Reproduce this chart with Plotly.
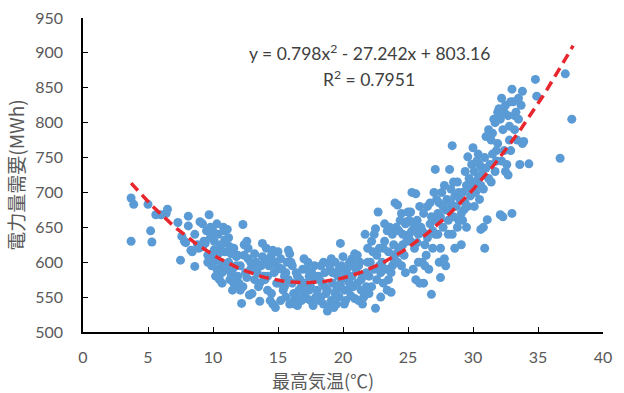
import plotly.graph_objects as go

# Observed days: (max temperature °C, electricity demand MWh)
points_cold = [
    (3.7, 692), (3.9, 683), (3.7, 630), (5.0, 683),
    (5.2, 645), (5.3, 629), (5.6, 668), (6.0, 668), (6.5, 676), (6.4, 670),
    (7.3, 657), (7.5, 603), (7.6, 637), (7.8, 630), (7.9, 628),
    (8.1, 666), (8.1, 652), (8.3, 617), (8.4, 615), (8.6, 640), (8.6, 594), (8.8, 625), (8.9, 620),
    (9.0, 658), (9.2, 655), (9.3, 630), (9.4, 627), (9.5, 645), (9.6, 610), (9.7, 668), (9.8, 650),
    (9.8, 635), (9.9, 612), (9.6, 600), (9.9, 595), (9.2, 622),
    (10.0, 645), (10.1, 630), (10.2, 605), (10.3, 590), (10.4, 640), (10.5, 620), (10.6, 600),
    (10.7, 585), (10.8, 650), (10.9, 615), (10.2, 580), (10.5, 575), (10.8, 595), (10.9, 632),
    (10.0, 600), (10.4, 612), (10.7, 570), (10.3, 655), (10.6, 625), (10.9, 645), (10.1, 618),
    (11.0, 628), (11.1, 647), (11.2, 600), (11.3, 575), (11.4, 612), (11.5, 590), (11.6, 620),
    (11.7, 565), (11.8, 608), (11.9, 580), (11.2, 635), (11.5, 560), (11.8, 595), (11.3, 622),
    (11.6, 570), (11.9, 610), (11.1, 590), (11.4, 583),
    (12.0, 570), (12.1, 595), (12.2, 541), (12.3, 654), (12.4, 610), (12.5, 585), (12.6, 630),
    (12.7, 620), (12.8, 553), (12.9, 600), (12.3, 565), (12.6, 578), (12.9, 590), (12.1, 560),
    (12.4, 625), (12.7, 605),
    (13.0, 555), (13.1, 590), (13.2, 575), (13.3, 600), (13.4, 585), (13.6, 544), (13.7, 595),
    (13.8, 627), (13.9, 580), (13.5, 565), (13.2, 612), (13.8, 608), (13.6, 570), (13.9, 598),
]

points_mild = [
    (14.0, 575), (14.1, 620), (14.2, 560), (14.3, 595), (14.4, 545), (14.5, 610), (14.6, 540),
    (14.7, 585), (14.8, 535), (14.9, 570), (14.3, 605), (14.6, 617), (14.2, 580), (14.8, 600),
    (14.5, 555), (14.9, 590),
    (15.0, 615), (15.1, 570), (15.2, 545), (15.3, 590), (15.4, 560), (15.5, 580), (15.6, 550),
    (15.7, 600), (15.8, 617), (15.9, 540), (15.2, 605), (15.5, 565), (15.8, 575), (15.1, 592),
    (15.9, 612), (15.6, 585),
    (16.0, 600), (16.1, 570), (16.2, 545), (16.3, 540), (16.4, 585), (16.5, 538), (16.6, 560),
    (16.7, 575), (16.8, 545), (16.9, 590), (16.2, 555), (16.5, 580), (16.8, 565), (16.1, 595),
    (16.4, 550),
    (17.0, 605), (17.1, 570), (17.2, 548), (17.3, 600), (17.4, 560), (17.5, 545), (17.6, 585),
    (17.7, 538), (17.8, 575), (17.9, 550), (17.2, 590), (17.5, 565), (17.8, 595), (17.4, 580),
    (17.0, 555),
    (18.0, 560), (18.1, 580), (18.2, 545), (18.3, 595), (18.4, 570), (18.5, 540), (18.6, 585),
    (18.7, 555), (18.8, 530), (18.9, 598), (18.2, 575), (18.5, 600), (18.8, 560), (18.3, 550),
    (18.9, 535), (18.6, 565),
    (19.0, 590), (19.1, 545), (19.2, 570), (19.3, 535), (19.4, 600), (19.5, 560), (19.6, 580),
    (19.7, 550), (19.8, 627), (19.9, 595), (19.2, 585), (19.5, 540), (19.8, 568), (19.1, 605),
    (19.4, 555), (19.7, 590), (19.9, 575),
    (20.0, 608), (20.1, 560), (20.2, 545), (20.3, 590), (20.4, 575), (20.5, 600), (20.6, 552),
    (20.7, 580), (20.8, 565), (20.9, 612), (20.2, 585), (20.5, 570), (20.8, 595), (20.1, 540),
    (20.4, 560), (20.7, 605), (20.9, 548),
    (21.0, 590), (21.1, 570), (21.2, 545), (21.3, 600), (21.4, 560), (21.5, 580), (21.6, 550),
    (21.7, 640), (21.8, 565), (21.9, 620), (21.2, 595), (21.5, 540), (21.8, 585), (21.1, 610),
    (21.4, 575), (21.7, 555), (21.9, 600),
    (22.0, 580), (22.1, 600), (22.2, 565), (22.3, 615), (22.4, 590), (22.5, 534), (22.5, 648),
    (22.6, 575), (22.7, 672), (22.8, 595), (22.9, 550), (22.2, 630), (22.6, 610), (22.9, 585),
    (22.0, 555), (22.4, 640), (22.8, 620),
    (23.0, 600), (23.1, 570), (23.2, 630), (23.3, 590), (23.4, 560), (23.5, 615), (23.6, 650),
    (23.7, 585), (23.8, 640), (23.9, 605), (23.2, 655), (23.5, 575), (23.8, 595), (23.1, 620),
    (23.4, 645), (23.7, 557), (23.9, 625),
]

points_hot = [
    (24.0, 685), (24.2, 682), (24.1, 650), (24.3, 620), (24.4, 660), (24.5, 595), (24.6, 640),
    (24.7, 610), (24.8, 655), (24.9, 630), (24.2, 600), (24.5, 670), (24.8, 585), (24.3, 645),
    (24.6, 625), (24.9, 658), (24.1, 612),
    (25.0, 672), (25.1, 640), (25.2, 672), (25.3, 700), (25.6, 698), (25.4, 655), (25.5, 620),
    (25.6, 575), (25.7, 660), (25.8, 640), (25.9, 680), (25.2, 630), (25.5, 650), (25.8, 600),
    (25.1, 660), (25.4, 590), (25.7, 628), (25.9, 570), (25.3, 645),
    (26.0, 650), (26.1, 600), (26.2, 670), (26.3, 625), (26.4, 640), (26.5, 680), (26.6, 590),
    (26.7, 655), (26.8, 554), (26.9, 620), (26.2, 570), (26.5, 635), (26.8, 665), (26.1, 645),
    (26.4, 610), (26.7, 685), (26.9, 645), (26.3, 595),
    (27.0, 700), (27.1, 733), (27.2, 660), (27.3, 640), (27.4, 685), (27.5, 578), (27.5, 620),
    (27.6, 700), (27.7, 650), (27.8, 605), (27.9, 675), (27.2, 690), (27.5, 665), (27.8, 710),
    (27.1, 640), (27.4, 600), (27.7, 680), (27.9, 595), (27.3, 670),
    (28.0, 690), (28.1, 660), (28.2, 733), (28.4, 767), (28.3, 705), (28.4, 640), (28.5, 715),
    (28.6, 620), (28.7, 680), (28.8, 650), (28.9, 700), (28.2, 675), (28.5, 665), (28.8, 715),
    (28.1, 640), (28.6, 695), (28.9, 660), (28.3, 685),
    (29.0, 690), (29.1, 625), (29.2, 700), (29.3, 675), (29.4, 730), (29.6, 751), (29.5, 710),
    (29.6, 680), (29.7, 720), (29.8, 695), (29.9, 740), (29.2, 660), (29.5, 650), (29.8, 705),
    (29.1, 670), (29.4, 685), (29.9, 715),
    (30.0, 764), (30.1, 730), (30.2, 700), (30.3, 745), (30.4, 720), (30.5, 690), (30.6, 647),
    (30.8, 650), (30.9, 620), (30.7, 735), (30.8, 705), (30.9, 750), (30.2, 715), (30.5, 740),
    (30.6, 710), (30.1, 680), (30.4, 755), (30.7, 725),
    (31.0, 780), (31.1, 661), (31.2, 790), (31.3, 740), (31.4, 775), (31.5, 755), (31.6, 805),
    (31.7, 730), (31.8, 760), (31.9, 815), (31.2, 720), (31.5, 785), (31.8, 745), (31.0, 735),
    (31.4, 715), (31.7, 800), (31.9, 770),
    (32.0, 820), (32.1, 668), (32.3, 665), (32.2, 835), (32.3, 790), (32.4, 760), (32.5, 825),
    (32.6, 740), (32.7, 810), (32.8, 775), (32.9, 830), (32.2, 745), (32.5, 730), (32.8, 795),
    (32.1, 805), (32.4, 815), (32.7, 725), (32.9, 760),
    (33.0, 670), (33.0, 848), (33.1, 830), (33.2, 790), (33.3, 815), (33.4, 775), (33.5, 835),
    (33.6, 740), (33.7, 825), (33.8, 845), (33.9, 773), (33.2, 810), (33.5, 805), (33.8, 770),
    (34.3, 741), (34.8, 862), (34.9, 838), (36.7, 749), (37.1, 870), (37.6, 805),
]

# Polynomial trendline coefficients shown on the chart (a, b, c)
trend_coef = [0.798, -27.242, 803.16]
trend_range = [3.7, 37.7]
equation_text = "y = 0.798x<sup>2</sup> - 27.242x + 803.16"
r2_text = "R<sup>2</sup> = 0.7951"
x_title = "最高気温(℃)"
y_title = "電力量需要(MWh)"

x_ticks = [0, 5, 10, 15, 20, 25, 30, 35, 40]
y_ticks = [500, 550, 600, 650, 700, 750, 800, 850, 900, 950]

all_points = points_cold + points_mild + points_hot
temps = [p[0] for p in all_points]
demand = [p[1] for p in all_points]

n = 120
tx = [trend_range[0] + (trend_range[1] - trend_range[0]) * i / (n - 1) for i in range(n)]
ty = [trend_coef[0] * v * v + trend_coef[1] * v + trend_coef[2] for v in tx]

FONT = "Lato, 'Noto Sans CJK JP', sans-serif"
JP = "'Noto Sans CJK JP', sans-serif"
GRAY = "#595959"

fig = go.Figure()
fig.add_trace(go.Scatter(
    x=temps, y=demand, mode="markers",
    marker=dict(size=9, color="#5B9BD5", line=dict(width=0)),
    showlegend=False, hoverinfo="x+y",
))
fig.add_trace(go.Scatter(
    x=tx, y=ty, mode="lines",
    line=dict(color="#E8262D", width=3.5, dash="10px,6px"),
    showlegend=False, hoverinfo="skip",
))

fig.add_annotation(x=22.0, y=900, xref="x", yref="y", text=equation_text,
                   showarrow=False, font=dict(family=FONT, size=17.5, color="#404040"))
fig.add_annotation(x=22.0, y=864, xref="x", yref="y", text=r2_text,
                   showarrow=False, font=dict(family=FONT, size=17.5, color="#404040"))
# x-axis title (sits slightly left of the plot centre, as in the original)
fig.add_annotation(x=0.4615, y=-0.152, xref="paper", yref="paper", text=x_title,
                   showarrow=False, xanchor="center", yanchor="middle",
                   font=dict(family=JP, size=18, color=GRAY))

fig.update_layout(
    width=624, height=393,
    margin=dict(l=83, r=21, t=18, b=61),
    paper_bgcolor="white", plot_bgcolor="white",
    font=dict(family=FONT, color=GRAY, size=16),
)
fig.update_xaxes(
    range=[0, 40], tickvals=x_ticks, ticktext=[str(v) for v in x_ticks],
    showgrid=False, zeroline=False, showline=True, linecolor="#000000", linewidth=1.5,
    ticks="inside", ticklen=5, tickcolor="#000000", tickwidth=1.2,
    tickfont=dict(family=FONT, size=16, color=GRAY), ticklabelstandoff=10,
    automargin=False,
)
fig.update_yaxes(
    range=[500, 950], tickvals=y_ticks, ticktext=[str(v) for v in y_ticks],
    showgrid=False, zeroline=False, showline=True, linecolor="#000000", linewidth=1.5,
    ticks="inside", ticklen=5, tickcolor="#000000", tickwidth=1.2,
    tickfont=dict(family=FONT, size=16, color=GRAY), ticklabelstandoff=15,
    automargin=False,
    title=dict(text=y_title, font=dict(family=JP, size=19, color=GRAY), standoff=6),
)

fig.write_html(
    "out.html",
    config={"displayModeBar": False},
    post_script="document.body.style.margin='0';document.body.style.overflow='hidden';",
)
